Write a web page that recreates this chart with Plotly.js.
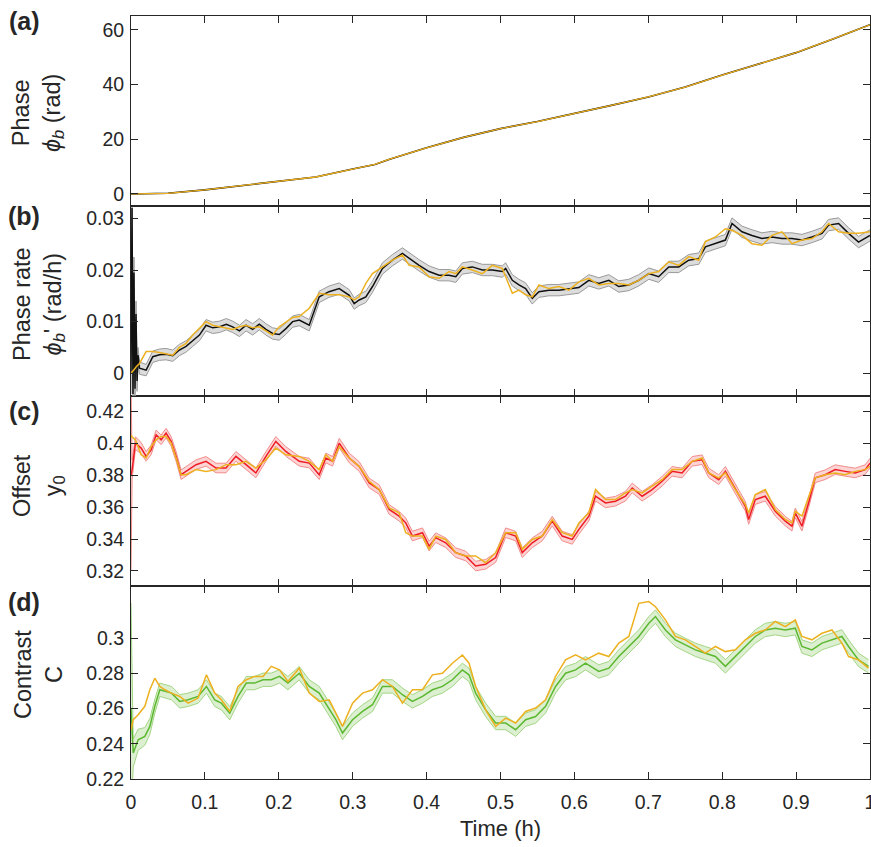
<!DOCTYPE html>
<html>
<head>
<meta charset="utf-8">
<script src="https://cdn.plot.ly/plotly-3.0.1.min.js"></script>
<style>html,body{margin:0;padding:0;background:#fff;}#chart{width:871px;height:847px;}</style>
</head>
<body>
<div id="chart"></div>
<script>
// ---------- Data ----------
// (a) Phase
const phaseTime = [0, 0.05, 0.1, 0.15, 0.2, 0.25, 0.3, 0.33, 0.35, 0.4, 0.45, 0.5, 0.55, 0.6, 0.65, 0.7, 0.75, 0.8, 0.85, 0.9, 0.95, 1.0];
const phaseMeasured = [0, 0.25, 1.5, 3.0, 4.5, 6.2, 9.1, 10.8, 12.7, 16.9, 20.7, 23.9, 26.5, 29.4, 32.4, 35.5, 39.1, 43.5, 47.6, 51.7, 56.7, 61.9];
const phaseModel    = [0, 0.25, 1.5, 3.0, 4.5, 6.2, 9.1, 10.8, 12.7, 16.9, 20.7, 23.9, 26.5, 29.4, 32.4, 35.5, 39.1, 43.5, 47.6, 51.7, 56.7, 61.9];

// (b) Phase rate
const rateTime = [0, 0.0014, 0.0027, 0.004, 0.0054, 0.0068, 0.0082, 0.0095, 0.0115, 0.0205, 0.0295, 0.0385, 0.0475, 0.0565, 0.0655, 0.0745, 0.0835, 0.0926, 0.1016, 0.1106, 0.12, 0.129, 0.1376, 0.1467, 0.1557, 0.1646, 0.1736, 0.1826, 0.1916, 0.2006, 0.21, 0.2187, 0.2277, 0.2412, 0.2547, 0.268, 0.2818, 0.2953, 0.302, 0.3088, 0.3178, 0.3268, 0.3403, 0.3538, 0.3673, 0.3764, 0.3899, 0.4034, 0.4169, 0.4304, 0.4395, 0.4484, 0.4619, 0.4754, 0.4889, 0.5024, 0.507, 0.516, 0.525, 0.534, 0.543, 0.552, 0.5655, 0.579, 0.5926, 0.606, 0.6196, 0.633, 0.6466, 0.66, 0.6737, 0.687, 0.7007, 0.714, 0.7277, 0.7412, 0.7547, 0.7683, 0.7773, 0.7908, 0.8043, 0.8133, 0.8268, 0.8403, 0.8538, 0.8674, 0.8809, 0.8944, 0.9079, 0.9214, 0.935, 0.944, 0.9575, 0.971, 0.9845, 1.0];
const rateMeasured = [0.0, 0.032, -0.004, 0.0195, -0.003, 0.0115, -0.0015, 0.0035, 0.001, 0.0006, 0.0032, 0.0036, 0.0037, 0.0034, 0.0045, 0.0052, 0.0063, 0.0074, 0.0093, 0.0088, 0.009, 0.0095, 0.009, 0.0082, 0.0093, 0.0085, 0.0095, 0.0085, 0.0077, 0.0075, 0.0087, 0.01, 0.0103, 0.0093, 0.0148, 0.0158, 0.0164, 0.0151, 0.0135, 0.0142, 0.0148, 0.0168, 0.0203, 0.0219, 0.0232, 0.0222, 0.0209, 0.0197, 0.019, 0.019, 0.0187, 0.0203, 0.0206, 0.02, 0.02, 0.0197, 0.0203, 0.018, 0.0171, 0.0164, 0.0145, 0.0158, 0.0161, 0.0161, 0.0164, 0.0166, 0.018, 0.0174, 0.018, 0.0168, 0.0171, 0.018, 0.0193, 0.0187, 0.0206, 0.0206, 0.0219, 0.0222, 0.0245, 0.0251, 0.0258, 0.029, 0.0274, 0.0267, 0.0261, 0.0264, 0.0261, 0.0261, 0.0258, 0.0264, 0.0271, 0.0287, 0.029, 0.0271, 0.0254, 0.0267];
const rateSigma = [0.004, 0.004, 0.004, 0.003, 0.003, 0.0025, 0.002, 0.0015, 0.0012, 0.0011, 0.0011, 0.0011, 0.0011, 0.0011, 0.0011, 0.0011, 0.0011, 0.0011, 0.0011, 0.0011, 0.0011, 0.0011, 0.0011, 0.0011, 0.0011, 0.0011, 0.0011, 0.0011, 0.0011, 0.0011, 0.0011, 0.0011, 0.0011, 0.0011, 0.0011, 0.0011, 0.0011, 0.0011, 0.0011, 0.0011, 0.0011, 0.0011, 0.0011, 0.0011, 0.0011, 0.0011, 0.0011, 0.0011, 0.0011, 0.0011, 0.0011, 0.0011, 0.0011, 0.0011, 0.0011, 0.0011, 0.0011, 0.0011, 0.0011, 0.0011, 0.0011, 0.0011, 0.0011, 0.0011, 0.0011, 0.0011, 0.0011, 0.0011, 0.0011, 0.0011, 0.0011, 0.0011, 0.0011, 0.0011, 0.0011, 0.0011, 0.0011, 0.0011, 0.0011, 0.0011, 0.0011, 0.0011, 0.0011, 0.0011, 0.0011, 0.0011, 0.0011, 0.0011, 0.0011, 0.0011, 0.0011, 0.0011, 0.0011, 0.0011, 0.0011, 0.0011];
const rateModel = [0.0, 0.0002, 0.0004, 0.0006, 0.0009, 0.0012, 0.0014, 0.0017, 0.0019, 0.0042, 0.0042, 0.004, 0.0037, 0.0035, 0.005, 0.0058, 0.0074, 0.0087, 0.01, 0.0093, 0.009, 0.0087, 0.0085, 0.009, 0.0093, 0.0088, 0.009, 0.0082, 0.0074, 0.009, 0.01, 0.0108, 0.011, 0.0126, 0.0155, 0.0152, 0.0152, 0.0148, 0.0142, 0.0148, 0.0174, 0.0193, 0.0206, 0.0219, 0.0229, 0.0209, 0.0206, 0.0187, 0.0184, 0.0197, 0.0193, 0.0206, 0.02, 0.0193, 0.0209, 0.0203, 0.0187, 0.0155, 0.0161, 0.0152, 0.0148, 0.0171, 0.0164, 0.0168, 0.0161, 0.0177, 0.0184, 0.0171, 0.0174, 0.0174, 0.0171, 0.018, 0.0193, 0.0197, 0.0216, 0.0209, 0.0226, 0.0219, 0.0255, 0.0264, 0.028, 0.0277, 0.0267, 0.0251, 0.0248, 0.0267, 0.0274, 0.0251, 0.0258, 0.0261, 0.0274, 0.029, 0.0274, 0.0271, 0.0271, 0.0274];

// (c) Offset
const offsetTime = [0, 0.0015, 0.006, 0.0137, 0.0205, 0.0273, 0.034, 0.0408, 0.0475, 0.0543, 0.061, 0.0678, 0.0745, 0.088, 0.1016, 0.115, 0.1286, 0.142, 0.1557, 0.169, 0.1826, 0.196, 0.2095, 0.2277, 0.2412, 0.2547, 0.2637, 0.2727, 0.2818, 0.2953, 0.3088, 0.3223, 0.3358, 0.3493, 0.3628, 0.3718, 0.3808, 0.3944, 0.4034, 0.4124, 0.4259, 0.4394, 0.4529, 0.4664, 0.4799, 0.4934, 0.507, 0.5205, 0.5295, 0.543, 0.5565, 0.57, 0.5835, 0.597, 0.6061, 0.6196, 0.6286, 0.6421, 0.6556, 0.6691, 0.6782, 0.6917, 0.7052, 0.7187, 0.7322, 0.7457, 0.7593, 0.7728, 0.7818, 0.7953, 0.8043, 0.8178, 0.8313, 0.8358, 0.8448, 0.8583, 0.8718, 0.8854, 0.8944, 0.8989, 0.9079, 0.9169, 0.9259, 0.9394, 0.9529, 0.9665, 0.98, 0.9935, 1.0];
const offsetMeasured = [0.38, 0.3836, 0.4002, 0.3971, 0.3919, 0.396, 0.4054, 0.4023, 0.4065, 0.4013, 0.3919, 0.3804, 0.3825, 0.3867, 0.3888, 0.3846, 0.3846, 0.3919, 0.3867, 0.3815, 0.3919, 0.4013, 0.395, 0.3888, 0.3877, 0.3804, 0.3909, 0.3888, 0.4002, 0.3909, 0.3856, 0.3752, 0.3711, 0.3586, 0.3544, 0.3502, 0.3419, 0.344, 0.3356, 0.3409, 0.3377, 0.3315, 0.3294, 0.3231, 0.3242, 0.3284, 0.344, 0.3419, 0.3315, 0.3377, 0.3419, 0.3513, 0.3419, 0.3398, 0.3461, 0.3544, 0.3669, 0.3627, 0.3638, 0.3669, 0.3721, 0.3669, 0.3711, 0.3763, 0.3825, 0.3815, 0.3888, 0.3898, 0.3815, 0.3773, 0.3825, 0.3711, 0.3606, 0.3523, 0.3648, 0.3669, 0.3575, 0.3513, 0.3481, 0.3565, 0.3481, 0.3627, 0.3784, 0.3804, 0.3836, 0.3825, 0.3815, 0.3836, 0.3877];
const offsetSigma = [0.06, 0.006, 0.004, 0.0035, 0.003, 0.003, 0.003, 0.003, 0.003, 0.003, 0.003, 0.003, 0.003, 0.003, 0.003, 0.003, 0.003, 0.003, 0.003, 0.003, 0.003, 0.003, 0.003, 0.003, 0.003, 0.003, 0.003, 0.003, 0.003, 0.003, 0.003, 0.003, 0.003, 0.003, 0.003, 0.003, 0.003, 0.003, 0.003, 0.003, 0.003, 0.003, 0.003, 0.003, 0.003, 0.003, 0.003, 0.003, 0.003, 0.003, 0.003, 0.003, 0.003, 0.003, 0.003, 0.003, 0.003, 0.003, 0.003, 0.003, 0.003, 0.003, 0.003, 0.003, 0.003, 0.003, 0.003, 0.003, 0.003, 0.003, 0.003, 0.003, 0.003, 0.003, 0.003, 0.003, 0.003, 0.003, 0.003, 0.003, 0.003, 0.003, 0.003, 0.003, 0.003, 0.003, 0.003, 0.003, 0.003];
const offsetModel = [0.4054, 0.404, 0.4023, 0.3929, 0.3909, 0.3981, 0.4023, 0.4044, 0.4044, 0.4002, 0.3909, 0.3804, 0.3804, 0.3836, 0.3825, 0.3836, 0.3867, 0.3867, 0.3888, 0.3846, 0.3898, 0.3971, 0.3929, 0.3919, 0.3888, 0.3836, 0.3929, 0.3888, 0.3981, 0.3909, 0.3856, 0.3763, 0.3711, 0.3596, 0.3565, 0.344, 0.3419, 0.3419, 0.3336, 0.3419, 0.3398, 0.3315, 0.3294, 0.3294, 0.3252, 0.3315, 0.344, 0.344, 0.3336, 0.3398, 0.3419, 0.3523, 0.344, 0.3419, 0.3502, 0.3565, 0.3711, 0.3648, 0.3648, 0.369, 0.3711, 0.369, 0.3732, 0.3773, 0.3836, 0.3836, 0.3888, 0.3909, 0.3815, 0.3784, 0.3815, 0.3711, 0.3617, 0.3565, 0.368, 0.3711, 0.3586, 0.3523, 0.3502, 0.3575, 0.3544, 0.3669, 0.3784, 0.3804, 0.3815, 0.3804, 0.3825, 0.3836, 0.3856];

// (d) Contrast
const contrastTime = [0, 0.003, 0.0097, 0.0187, 0.0255, 0.0322, 0.039, 0.0458, 0.0548, 0.066, 0.0773, 0.0908, 0.1021, 0.1133, 0.1223, 0.1336, 0.1448, 0.156, 0.1673, 0.1786, 0.1898, 0.201, 0.2123, 0.2277, 0.2412, 0.2547, 0.2682, 0.2772, 0.2862, 0.2998, 0.3133, 0.3268, 0.3403, 0.3538, 0.3673, 0.3808, 0.3944, 0.4079, 0.4214, 0.4349, 0.4484, 0.4574, 0.4664, 0.4799, 0.4934, 0.507, 0.5205, 0.534, 0.5475, 0.561, 0.5745, 0.588, 0.6016, 0.615, 0.633, 0.6466, 0.6601, 0.6737, 0.6872, 0.7007, 0.7097, 0.7232, 0.7367, 0.7502, 0.7637, 0.7773, 0.7908, 0.8043, 0.8178, 0.8313, 0.8448, 0.8583, 0.8718, 0.8854, 0.8989, 0.9079, 0.9214, 0.935, 0.9485, 0.962, 0.971, 0.9845, 0.998];
const contrastMeasured = [0.26, 0.2348, 0.2423, 0.2442, 0.2499, 0.2613, 0.2707, 0.2698, 0.2688, 0.2641, 0.265, 0.2669, 0.2726, 0.265, 0.2631, 0.2574, 0.2669, 0.2745, 0.2745, 0.2764, 0.2764, 0.2783, 0.2745, 0.2801, 0.2726, 0.2688, 0.2593, 0.2537, 0.2461, 0.2537, 0.2584, 0.2622, 0.2726, 0.2726, 0.2679, 0.2641, 0.2669, 0.2707, 0.2726, 0.2764, 0.282, 0.2792, 0.2688, 0.2593, 0.2518, 0.2518, 0.248, 0.2537, 0.2555, 0.2613, 0.2726, 0.2801, 0.282, 0.2858, 0.2811, 0.283, 0.2896, 0.2953, 0.301, 0.3085, 0.3123, 0.3047, 0.2991, 0.2962, 0.2934, 0.2915, 0.2896, 0.284, 0.2896, 0.2953, 0.301, 0.3047, 0.3057, 0.3047, 0.3057, 0.2953, 0.2934, 0.2972, 0.2991, 0.301, 0.2953, 0.2877, 0.284];
const contrastSigma = [0.06, 0.008, 0.006, 0.005, 0.0045, 0.004, 0.0038, 0.0038, 0.0038, 0.0038, 0.0038, 0.0038, 0.0038, 0.0038, 0.0038, 0.0038, 0.0038, 0.0038, 0.0038, 0.0038, 0.0038, 0.0038, 0.0038, 0.0038, 0.0038, 0.0038, 0.0038, 0.0038, 0.0038, 0.0038, 0.0038, 0.0038, 0.0038, 0.0038, 0.0038, 0.0038, 0.0038, 0.0038, 0.0038, 0.0038, 0.0038, 0.0038, 0.0038, 0.0038, 0.0038, 0.0038, 0.0038, 0.0038, 0.0038, 0.0038, 0.0038, 0.0038, 0.0038, 0.0038, 0.0038, 0.0038, 0.0038, 0.0038, 0.0038, 0.0038, 0.0038, 0.0038, 0.0038, 0.0038, 0.0038, 0.0038, 0.0038, 0.0038, 0.0038, 0.0038, 0.0038, 0.0038, 0.0038, 0.0038, 0.0038, 0.0038, 0.0038, 0.0038, 0.0038, 0.0038, 0.0038, 0.0038, 0.0038];
const contrastModel = [0.248, 0.2537, 0.2565, 0.2613, 0.2707, 0.2773, 0.2726, 0.2707, 0.2688, 0.2669, 0.2631, 0.266, 0.2792, 0.2688, 0.265, 0.2584, 0.2726, 0.2764, 0.2783, 0.2783, 0.284, 0.282, 0.2754, 0.283, 0.2688, 0.2641, 0.265, 0.2574, 0.2499, 0.2631, 0.2688, 0.2707, 0.2764, 0.2726, 0.2631, 0.2707, 0.2707, 0.2792, 0.2801, 0.2858, 0.2905, 0.2858, 0.2726, 0.2593, 0.2499, 0.2546, 0.2518, 0.2584, 0.2603, 0.265, 0.2783, 0.2877, 0.2905, 0.2877, 0.2915, 0.2896, 0.2972, 0.301, 0.3198, 0.3208, 0.3179, 0.3104, 0.301, 0.2991, 0.2953, 0.2915, 0.2953, 0.2924, 0.2934, 0.2991, 0.3028, 0.3047, 0.3095, 0.3066, 0.3104, 0.301, 0.2991, 0.3028, 0.3047, 0.2972, 0.2896, 0.2877, 0.283];

// Tick labels
const timeTicks = [0, 0.1, 0.2, 0.3, 0.4, 0.5, 0.6, 0.7, 0.8, 0.9, 1];
const timeTickText = ['0', '0.1', '0.2', '0.3', '0.4', '0.5', '0.6', '0.7', '0.8', '0.9', '1'];
const phaseTicks = [0, 20, 40, 60];
const phaseTickText = ['0', '20', '40', '60'];
const rateTicks = [0, 0.01, 0.02, 0.03];
const rateTickText = ['0', '0.01', '0.02', '0.03'];
const offsetTicks = [0.32, 0.34, 0.36, 0.38, 0.40, 0.42];
const offsetTickText = ['0.32', '0.34', '0.36', '0.38', '0.4', '0.42'];
const contrastTicks = [0.22, 0.24, 0.26, 0.28, 0.30];
const contrastTickText = ['0.22', '0.24', '0.26', '0.28', '0.3'];

// ---------- Styling ----------
const FONT = '"Liberation Sans", Arial, Helvetica, sans-serif';
const TXT = '#262626';
const ORANGE = '#EDB120';

function band(t, m, s, xa, ya, edge, fillc) {
  const lo = m.map((v, i) => v - s[i]);
  const hi = m.map((v, i) => v + s[i]);
  return [
    {x: t, y: lo, xaxis: xa, yaxis: ya, mode: 'lines', line: {color: edge, width: 1}, hoverinfo: 'skip'},
    {x: t, y: hi, xaxis: xa, yaxis: ya, mode: 'lines', line: {color: edge, width: 1}, fill: 'tonexty', fillcolor: fillc, hoverinfo: 'skip'}
  ];
}
function line(t, y, xa, ya, color, w) {
  return {x: t, y: y, xaxis: xa, yaxis: ya, mode: 'lines', line: {color: color, width: w}};
}

const traces = [
  // (a)
  line(phaseTime, phaseMeasured, 'x4', 'y4', '#000000', 1.6),
  line(phaseTime, phaseModel, 'x4', 'y4', ORANGE, 1.3),
  // (b)
  ...band(rateTime, rateMeasured, rateSigma, 'x3', 'y3', '#9a9a9a', '#dcdcdc'),
  line(rateTime, rateMeasured, 'x3', 'y3', '#111111', 1.5),
  line(rateTime, rateModel, 'x3', 'y3', ORANGE, 1.5),
  // (c)
  ...band(offsetTime, offsetMeasured, offsetSigma, 'x2', 'y2', '#f28c8c', '#fcd4d4'),
  line(offsetTime, offsetMeasured, 'x2', 'y2', '#ee1c25', 1.5),
  line(offsetTime, offsetModel, 'x2', 'y2', ORANGE, 1.5),
  // (d)
  ...band(contrastTime, contrastMeasured, contrastSigma, 'x', 'y', '#a3d685', '#dcefd0'),
  line(contrastTime, contrastMeasured, 'x', 'y', '#5cb830', 1.5),
  line(contrastTime, contrastModel, 'x', 'y', ORANGE, 1.5)
];

function xAxis(anchor, showLabels) {
  const ax = {
    domain: [0, 1], range: [0, 1], anchor: anchor,
    tickmode: 'array', tickvals: timeTicks, ticktext: timeTickText,
    showticklabels: showLabels,
    ticks: 'inside', ticklen: 7, tickwidth: 1, tickcolor: TXT,
    mirror: 'ticks', showline: true, linecolor: TXT, linewidth: 1,
    showgrid: false, zeroline: false,
    tickfont: {family: FONT, size: 19.5, color: TXT},
    ticklabelstandoff: 6,
    ticklabeloverflow: 'allow'
  };
  if (showLabels) ax.title = {text: 'Time (h)', font: {family: FONT, size: 22, color: TXT}, standoff: 8};
  return ax;
}
function yAxis(anchor, domain, range, vals, text) {
  return {
    domain: domain, range: range, anchor: anchor,
    tickmode: 'array', tickvals: vals, ticktext: text,
    ticks: 'inside', ticklen: 7, tickwidth: 1, tickcolor: TXT,
    mirror: 'ticks', showline: true, linecolor: TXT, linewidth: 1,
    showgrid: false, zeroline: false,
    tickfont: {family: FONT, size: 19.5, color: TXT},
    ticklabelstandoff: 2
  };
}

// pixel helpers for annotations (plot area: x 131..870, y 16..779)
const PL = 131, PW = 739, PT = 16, PH = 763;
const px = v => (v - PL) / PW;
const py = v => (PT + PH - v) / PH;

function ytitle(text, yc) {
  return {text: text, xref: 'paper', yref: 'paper', x: px(38), y: py(yc), xanchor: 'center', yanchor: 'middle',
    textangle: -90, showarrow: false, align: 'center', font: {family: FONT, size: 23.5, color: TXT}};
}
function plabel(text, xc, yc) {
  return {text: '<b>' + text + '</b>', xref: 'paper', yref: 'paper', x: px(xc), y: py(yc), xanchor: 'center', yanchor: 'middle',
    showarrow: false, font: {family: FONT, size: 25, color: TXT}};
}

const layout = {
  width: 871, height: 847,
  margin: {l: 131, r: 1, t: 16, b: 68},
  paper_bgcolor: '#ffffff', plot_bgcolor: '#ffffff',
  showlegend: false,
  font: {family: FONT, color: TXT},
  xaxis: xAxis('y', true),
  xaxis2: xAxis('y2', false),
  xaxis3: xAxis('y3', false),
  xaxis4: xAxis('y4', false),
  yaxis: yAxis('x', [0, 0.253], [0.22, 0.3297], contrastTicks, contrastTickText),
  yaxis2: yAxis('x2', [0.253, 0.502], [0.3106, 0.4298], offsetTicks, offsetTickText),
  yaxis3: yAxis('x3', [0.502, 0.751], [-0.0044, 0.0324], rateTicks, rateTickText),
  yaxis4: yAxis('x4', [0.751, 1], [-4.4, 65.1], phaseTicks, phaseTickText),
  annotations: [
    ytitle('Phase<br><i>ϕ<sub>b</sub></i> (rad)', 113),
    ytitle('Phase rate<br><i>ϕ<sub>b</sub></i>\' (rad/h)', 304),
    ytitle('Offset<br>y<sub>0</sub>', 486),
    ytitle('Contrast<br>C', 675),
    plabel('(a)', 24, 21),
    plabel('(b)', 24, 216),
    plabel('(c)', 24, 411),
    plabel('(d)', 24, 602)
  ]
};

Plotly.newPlot('chart', traces, layout, {staticPlot: true, displayModeBar: false});
</script>
</body>
</html>
